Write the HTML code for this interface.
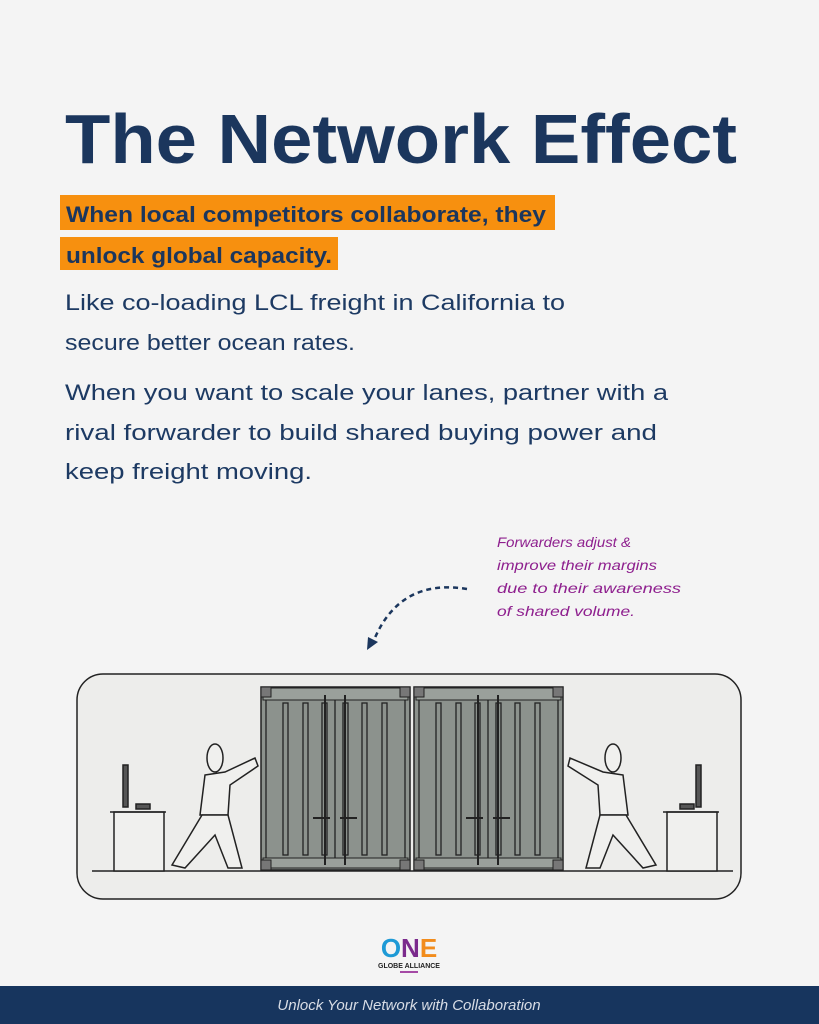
<!DOCTYPE html>
<html><head><meta charset="utf-8"><style>
html,body{margin:0;padding:0;background:#f4f4f4;}
svg{display:block}
</style></head><body>
<svg width="819" height="1024" viewBox="0 0 819 1024" xmlns="http://www.w3.org/2000/svg" font-family="Liberation Sans, sans-serif">
<rect width="819" height="1024" fill="#f4f4f4"/>
<text x="65" y="163" font-size="70" font-weight="bold" fill="#1b365d" textLength="672" lengthAdjust="spacingAndGlyphs">The Network Effect</text>
<rect x="60" y="195" width="495" height="35" fill="#f7900f"/>
<rect x="60" y="237" width="278" height="33" fill="#f7900f"/>
<text x="66" y="222" font-size="22" font-weight="bold" fill="#1b365d" textLength="480" lengthAdjust="spacingAndGlyphs">When local competitors collaborate, they</text>
<text x="66" y="263" font-size="22" font-weight="bold" fill="#1b365d" textLength="266" lengthAdjust="spacingAndGlyphs">unlock global capacity.</text>
<g font-size="22" fill="#1d3a63">
<text x="65" y="310" textLength="500" lengthAdjust="spacingAndGlyphs">Like co-loading LCL freight in California to</text>
<text x="65" y="350" textLength="290" lengthAdjust="spacingAndGlyphs">secure better ocean rates.</text>
<text x="65" y="400" textLength="603" lengthAdjust="spacingAndGlyphs">When you want to scale your lanes, partner with a</text>
<text x="65" y="440" textLength="592" lengthAdjust="spacingAndGlyphs">rival forwarder to build shared buying power and</text>
<text x="65" y="479" textLength="247" lengthAdjust="spacingAndGlyphs">keep freight moving.</text>
</g>
<g font-size="14" fill="#8e1f8e" font-family="Liberation Sans, sans-serif" font-style="italic">
<text x="497" y="547" textLength="134" lengthAdjust="spacingAndGlyphs">Forwarders adjust &amp;</text>
<text x="497" y="570" textLength="160" lengthAdjust="spacingAndGlyphs">improve their margins</text>
<text x="497" y="593" textLength="184" lengthAdjust="spacingAndGlyphs">due to their awareness</text>
<text x="497" y="616" textLength="138" lengthAdjust="spacingAndGlyphs">of shared volume.</text>
</g>
<path d="M467 589 Q400 578 374 640" fill="none" stroke="#1b365d" stroke-width="2.5" stroke-dasharray="5 4"/>
<polygon points="367,650 368,637 378,642" fill="#1b365d"/>
<!-- illustration box -->
<rect x="77" y="674" width="664" height="225" rx="26" fill="#ededeb" stroke="#222" stroke-width="1.5"/>
<line x1="92" y1="871" x2="733" y2="871" stroke="#222" stroke-width="1.5"/>
<g id="cont">
<rect x="261" y="687" width="149" height="183" fill="#8c928d" stroke="#222" stroke-width="1.5"/>
<rect x="263" y="688" width="145" height="12" fill="#9aa09b" stroke="#222"/>
<rect x="263" y="858" width="145" height="10" fill="#9aa09b" stroke="#222"/>
<g stroke="#222" stroke-width="1.3" fill="none">
<rect x="283" y="703" width="5" height="152"/><rect x="303" y="703" width="5" height="152"/>
<rect x="322" y="703" width="5" height="152"/><rect x="343" y="703" width="5" height="152"/>
<rect x="362" y="703" width="5" height="152"/><rect x="382" y="703" width="5" height="152"/>
<line x1="335" y1="700" x2="335" y2="858"/>
<line x1="325" y1="695" x2="325" y2="865" stroke-width="2"/><line x1="345" y1="695" x2="345" y2="865" stroke-width="2"/>
<line x1="313" y1="818" x2="330" y2="818" stroke-width="2"/><line x1="340" y1="818" x2="357" y2="818" stroke-width="2"/>
<line x1="266" y1="700" x2="266" y2="858"/><line x1="405" y1="700" x2="405" y2="858"/>
</g>
<rect x="261" y="687" width="10" height="10" fill="#777" stroke="#222"/><rect x="400" y="687" width="10" height="10" fill="#777" stroke="#222"/>
<rect x="261" y="860" width="10" height="10" fill="#777" stroke="#222"/><rect x="400" y="860" width="10" height="10" fill="#777" stroke="#222"/>
</g>
<use href="#cont" x="153"/>
<!-- people -->
<g fill="#f0f0ee" stroke="#222" stroke-width="1.5">
<rect x="114" y="812" width="50" height="59"/><line x1="110" y1="812" x2="166" y2="812"/>
<rect x="123" y="765" width="5" height="42" fill="#555"/><rect x="136" y="804" width="14" height="5" fill="#555"/>
<rect x="667" y="812" width="50" height="59"/><line x1="663" y1="812" x2="719" y2="812"/>
<rect x="696" y="765" width="5" height="42" fill="#555"/><rect x="680" y="804" width="14" height="5" fill="#555"/>
<ellipse cx="215" cy="758" rx="8" ry="14"/>
<path d="M205 775 L225 772 L255 758 L258 766 L230 785 L228 815 L200 815 Z"/>
<path d="M202 815 L228 815 L242 868 L228 868 L215 835 L185 868 L172 865 Z"/>
<ellipse cx="613" cy="758" rx="8" ry="14"/>
<path d="M623 775 L603 772 L570 758 L568 766 L598 785 L600 815 L628 815 Z"/>
<path d="M626 815 L600 815 L586 868 L600 868 L613 835 L643 868 L656 865 Z"/>
</g>
<!-- logo -->
<text x="409" y="957" font-size="26" font-weight="bold" text-anchor="middle"><tspan fill="#1e9ad6">O</tspan><tspan fill="#7b2a8c">N</tspan><tspan fill="#f28c1c">E</tspan></text>
<text x="409" y="968" font-size="7" font-weight="bold" text-anchor="middle" fill="#222">GLOBE ALLIANCE</text>
<rect x="400" y="971" width="18" height="2" fill="#a54aa5"/>
<rect x="0" y="986" width="819" height="38" fill="#17355e"/>
<text x="409" y="1010" font-size="15" font-style="italic" fill="#d8dde6" text-anchor="middle">Unlock Your Network with Collaboration</text>
</svg>
</body></html>
